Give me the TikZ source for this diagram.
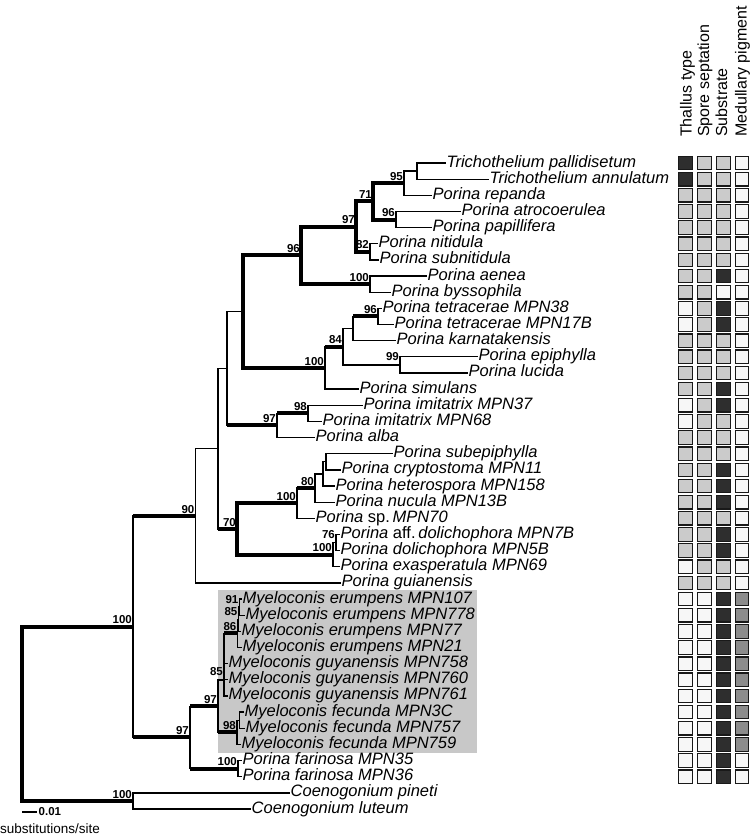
\documentclass[tikz,border=0pt]{standalone}
\usepackage{fontspec}
\setmainfont{Liberation Sans}
\usepackage{tikz}
\newcommand{\taxfont}{\fontsize{16.5bp}{18bp}\selectfont\itshape}
\newcommand{\bsfont}{\fontsize{11.5bp}{12bp}\selectfont\bfseries}
\newcommand{\hdfont}{\fontsize{16bp}{18bp}\selectfont}
\newcommand{\scfont}{\fontsize{13.5bp}{15bp}\selectfont}
\definecolor{cD}{HTML}{2E2E2E}
\definecolor{cL}{HTML}{CBCBCB}
\definecolor{cW}{HTML}{F7F7F7}
\definecolor{cG}{HTML}{8C8C8C}
\definecolor{hilite}{HTML}{C8C8C8}

\begin{document}
\begin{tikzpicture}[x=1bp, y=-1bp,
  thn/.style={line width=1.3bp, line cap=rect},
  thk/.style={line width=4bp},
  vthk/.style={line width=4bp, line cap=rect},
  bs/.style={anchor=south east, inner sep=0pt, font=\bsfont, xshift=-1bp, yshift=2.5bp},
  bst/.style={bs, yshift=1.2bp},
  taxon/.style={anchor=west, inner sep=1.5bp, text height=11.5bp, text depth=3.5bp, font=\taxfont},
  cell/.style={draw=black!90, line width=1.2bp, minimum size=13.5bp, inner sep=0pt},
  hdr/.style={anchor=west, rotate=90, inner sep=0pt, text height=11.5bp, text depth=3.5bp, font=\hdfont}]

\useasboundingbox (0,0) rectangle (752,840);

% Myeloconis clade
\fill[hilite] (218,590) rectangle (477,753);

% tips
\foreach \nm/\r/\ex/\txt in {
  Tp/0/445/Trichothelium pallidisetum,
  Ta/1/488/Trichothelium annulatum,
  Prep/2/431/Porina repanda,
  Patr/3/460/Porina atrocoerulea,
  Ppap/4/431/Porina papillifera,
  Pnit/5/377/Porina nitidula,
  Psubn/6/378/Porina subnitidula,
  Paen/7/426/Porina aenea,
  Pbys/8/390/Porina byssophila,
  Ptta/9/381/Porina tetracerae MPN38,
  Pttb/10/393/Porina tetracerae MPN17B,
  Pkar/11/395/Porina karnatakensis,
  Pepi/12/477/Porina epiphylla,
  Pluc/13/467/Porina lucida,
  Psim/14/358/Porina simulans,
  Pima/15/362/Porina imitatrix MPN37,
  Pimb/16/321/Porina imitatrix MPN68,
  Palb/17/314/Porina alba,
  Psube/18/392/Porina subepiphylla,
  Pcry/19/340/Porina cryptostoma MPN11,
  Phet/20/334/Porina heterospora MPN158,
  Pnuc/21/334/Porina nucula MPN13B,
  Psp/22/314/Porina \textup{sp.}\,MPN70,
  Paff/23/339/Porina \textup{aff.}\,dolichophora MPN7B,
  Pdol/24/339/Porina dolichophora MPN5B,
  Pexa/25/339/Porina exasperatula MPN69,
  Pgui/26/340/Porina guianensis,
  Mea/27/241/Myeloconis erumpens MPN107,
  Meb/28/244/Myeloconis erumpens MPN778,
  Mec/29/240/Myeloconis erumpens MPN77,
  Med/30/241/Myeloconis erumpens MPN21,
  Mga/31/227/Myeloconis guyanensis MPN758,
  Mgb/32/227/Myeloconis guyanensis MPN760,
  Mgc/33/227/Myeloconis guyanensis MPN761,
  Mfa/34/243/Myeloconis fecunda MPN3C,
  Mfb/35/244/Myeloconis fecunda MPN757,
  Mfc/36/240/Myeloconis fecunda MPN759,
  Pfa/37/241/Porina farinosa MPN35,
  Pfb/38/241/Porina farinosa MPN36,
  Cpi/39/289/Coenogonium pineti,
  Clu/40/250/Coenogonium luteum}
  \node[taxon] (\nm) at (\ex,{163+16.15*\r}) {\txt};

% internal nodes
\coordinate (R) at (22,713.8);
\coordinate (Ncoen) at (133,800.9);
\coordinate (N100a) at (133,626.7);
\coordinate (N90) at (195.5,515.9);
\coordinate (N218) at (218,448.8);
\coordinate (N227) at (227,368.6);
\coordinate (N243) at (243,311.7);
\coordinate (N96) at (301,255.4);
\coordinate (N97c) at (356,226.6);
\coordinate (N71) at (373,201.4);
\coordinate (N95) at (404,183.2);
\coordinate (Ntri) at (417,171.1);
\coordinate (N96d) at (396,219.5);
\coordinate (N82) at (370,251.8);
\coordinate (N100c) at (370,284.1);
\coordinate (N100b) at (325,367.9);
\coordinate (N84) at (343,346.7);
\coordinate (N353) at (353,328.5);
\coordinate (N96e) at (378,316.4);
\coordinate (N99) at (400,364.9);
\coordinate (N97b) at (277,425.4);
\coordinate (N98b) at (308,413.3);
\coordinate (N70) at (237,528.9);
\coordinate (N100d) at (297,503.2);
\coordinate (N80) at (315,488);
\coordinate (NX) at (323,473.9);
\coordinate (NY) at (326,461.8);
\coordinate (N100e) at (333,554.6);
\coordinate (N76) at (336,542.5);
\coordinate (N97a) at (190,737.4);
\coordinate (N97M) at (218,706.2);
\coordinate (N85) at (224,680);
\coordinate (N86) at (237.5,633.3);
\coordinate (N85e) at (238.5,619.2);
\coordinate (N91) at (239.5,607.1);
\coordinate (N98M) at (237,732.3);
\coordinate (Nfec) at (239.5,720.2);
\coordinate (N100f) at (238,768.6);

% verticals
\foreach \nd/\top/\bot/\st in {
  R/N100a/Ncoen/vthk, Ncoen/Cpi.west/Clu.west/thn,
  N100a/N90/N97a/thn, N90/N218/Pgui.west/thn,
  N218/N227/N70/thn, N227/N243/N97b/thn,
  N243/N96/N100b/vthk, N96/N97c/N100c/vthk,
  N97c/N71/N82/vthk, N71/N95/N96d/vthk,
  N95/Ntri/Prep.west/thn, Ntri/Tp.west/Ta.west/thn,
  N96d/Patr.west/Ppap.west/thn, N82/Pnit.west/Psubn.west/thn,
  N100c/Paen.west/Pbys.west/thn, N100b/N84/Psim.west/thn,
  N84/N353/N99/thn, N353/N96e/Pkar.west/thn,
  N96e/Ptta.west/Pttb.west/thn, N99/Pepi.west/Pluc.west/thn,
  N97b/N98b/Palb.west/thn, N98b/Pima.west/Pimb.west/thn,
  N70/N100d/N100e/vthk, N100d/N80/Psp.west/thn,
  N80/NX/Pnuc.west/thn, NX/NY/Phet.west/thn,
  NY/Psube.west/Pcry.west/thn, N100e/N76/Pexa.west/thn,
  N76/Paff.west/Pdol.west/thn, N97a/N97M/N100f/thn,
  N97M/N85/N98M/thn, N85/N86/Mgc.west/thn,
  N86/N85e/Med.west/thn, N85e/N91/Mec.west/thn,
  N91/Mea.west/Meb.west/thn, N98M/Nfec/Mfc.west/thn,
  Nfec/Mfa.west/Mfb.west/thn, N100f/Pfa.west/Pfb.west/thn}
  \draw[\st] (\nd |- \top) -- (\nd |- \bot);

% horizontals
\foreach \pa/\ch/\st in {
  R/N100a/thk, R/Ncoen/thk, Ncoen/Cpi.west/thn, Ncoen/Clu.west/thn,
  N100a/N90/thk, N100a/N97a/thk, N90/N218/thn, N90/Pgui.west/thn,
  N218/N227/thn, N218/N70/thk, N227/N243/thn, N227/N97b/thk,
  N243/N96/thk, N243/N100b/thk, N96/N97c/thk, N96/N100c/thk,
  N97c/N71/thk, N97c/N82/thk, N71/N95/thk, N71/N96d/thk,
  N95/Ntri/thn, N95/Prep.west/thn, Ntri/Tp.west/thn, Ntri/Ta.west/thn,
  N96d/Patr.west/thn, N96d/Ppap.west/thn, N82/Pnit.west/thn, N82/Psubn.west/thn,
  N100c/Paen.west/thn, N100c/Pbys.west/thn, N100b/N84/thk, N100b/Psim.west/thn,
  N84/N353/thn, N84/N99/thn, N353/N96e/thk, N353/Pkar.west/thn,
  N96e/Ptta.west/thn, N96e/Pttb.west/thn, N99/Pepi.west/thn, N99/Pluc.west/thn,
  N97b/N98b/thk, N97b/Palb.west/thn, N98b/Pima.west/thn, N98b/Pimb.west/thn,
  N70/N100d/thk, N70/N100e/thk, N100d/N80/thk, N100d/Psp.west/thn,
  N80/NX/thn, N80/Pnuc.west/thn, NX/NY/thn, NX/Phet.west/thn,
  NY/Psube.west/thn, NY/Pcry.west/thn, N100e/N76/thn, N100e/Pexa.west/thn,
  N76/Paff.west/thn, N76/Pdol.west/thn, N97a/N97M/thk, N97a/N100f/thk,
  N97M/N85/thn, N97M/N98M/thk, N85/N86/thk, N85/Mga.west/thn,
  N85/Mgb.west/thn, N85/Mgc.west/thn, N86/N85e/thn, N86/Med.west/thn,
  N85e/N91/thn, N85e/Mec.west/thn, N91/Mea.west/thn, N91/Meb.west/thn,
  N98M/Nfec/thn, N98M/Mfc.west/thn, Nfec/Mfa.west/thn, Nfec/Mfb.west/thn,
  N100f/Pfa.west/thn, N100f/Pfb.west/thn}
  \draw[\st] (\pa |- \ch) -- (\ch);

% bootstrap values
\foreach \nd/\val/\st in {
  N100a/100/bs, Ncoen/100/bs, N90/90/bs, N97a/97/bs, N70/70/bs,
  N97b/97/bs, N98b/98/bs, N96/96/bs, N100b/100/bs, N97c/97/bs,
  N100c/100/bs, N71/71/bs, N82/82/bs, N95/95/bs, N96d/96/bs,
  N84/84/bs, N96e/96/bs, N99/99/bst, N100d/100/bs, N100e/100/bs,
  N80/80/bs, N76/76/bst, N97M/97/bs, N100f/100/bs, N98M/98/bs,
  N85/85/bst, N86/86/bs, N85e/85/bst, N91/91/bst}
  \node[\st] (l\nd) at (\nd) {\val};

% character columns
\node[hdr] (hThal) at (687.5,137) {Thallus type};
\node[hdr] (hSpor) at (705,137) {Spore septation};
\node[hdr] (hSubs) at (723,137) {Substrate};
\node[hdr] (hMedu) at (742.5,137) {Medullary pigment};
\foreach \a/\b/\c/\d [count=\r from 0] in {
  cD/cL/cL/cW, cD/cL/cL/cW, cL/cL/cL/cW, cL/cL/cL/cW, cL/cL/cL/cW,
  cL/cL/cL/cW, cL/cL/cL/cW, cL/cL/cD/cW, cL/cL/cW/cW, cW/cL/cD/cW,
  cW/cL/cD/cW, cL/cL/cL/cW, cL/cL/cL/cW, cL/cL/cL/cW, cL/cL/cD/cW,
  cW/cL/cD/cW, cW/cL/cL/cW, cL/cL/cL/cW, cL/cL/cL/cW, cL/cL/cD/cW,
  cL/cL/cD/cW, cL/cL/cD/cW, cL/cL/cL/cW, cL/cL/cD/cW, cL/cL/cD/cW,
  cW/cL/cL/cW, cL/cL/cL/cW, cW/cW/cD/cG, cW/cW/cD/cG, cW/cW/cD/cG,
  cW/cW/cD/cG, cW/cW/cD/cG, cW/cW/cD/cG, cW/cW/cD/cG, cW/cW/cD/cG,
  cW/cW/cD/cG, cW/cW/cD/cG, cW/cW/cD/cW, cW/cW/cD/cW}
  \foreach \cc/\cx [count=\k] in {\a/685.5,\b/704.5,\c/723.5,\d/742}
    \node[cell, fill=\cc] (c\r-\k) at (\cx,{163+16.15*\r}) {};

% scale bar
\coordinate (sbA) at (22,812);
\coordinate (sbB) at (37,812);
\draw[line width=1.3bp] (sbA) -- (sbB);
\node[anchor=west, inner sep=1.5bp, font=\bsfont] (sbVal) at (sbB) {0.01};
\node[anchor=base west, inner sep=0pt, font=\scfont] (sbUnit) at (0,833) {substitutions/site};
\end{tikzpicture}
\end{document}
